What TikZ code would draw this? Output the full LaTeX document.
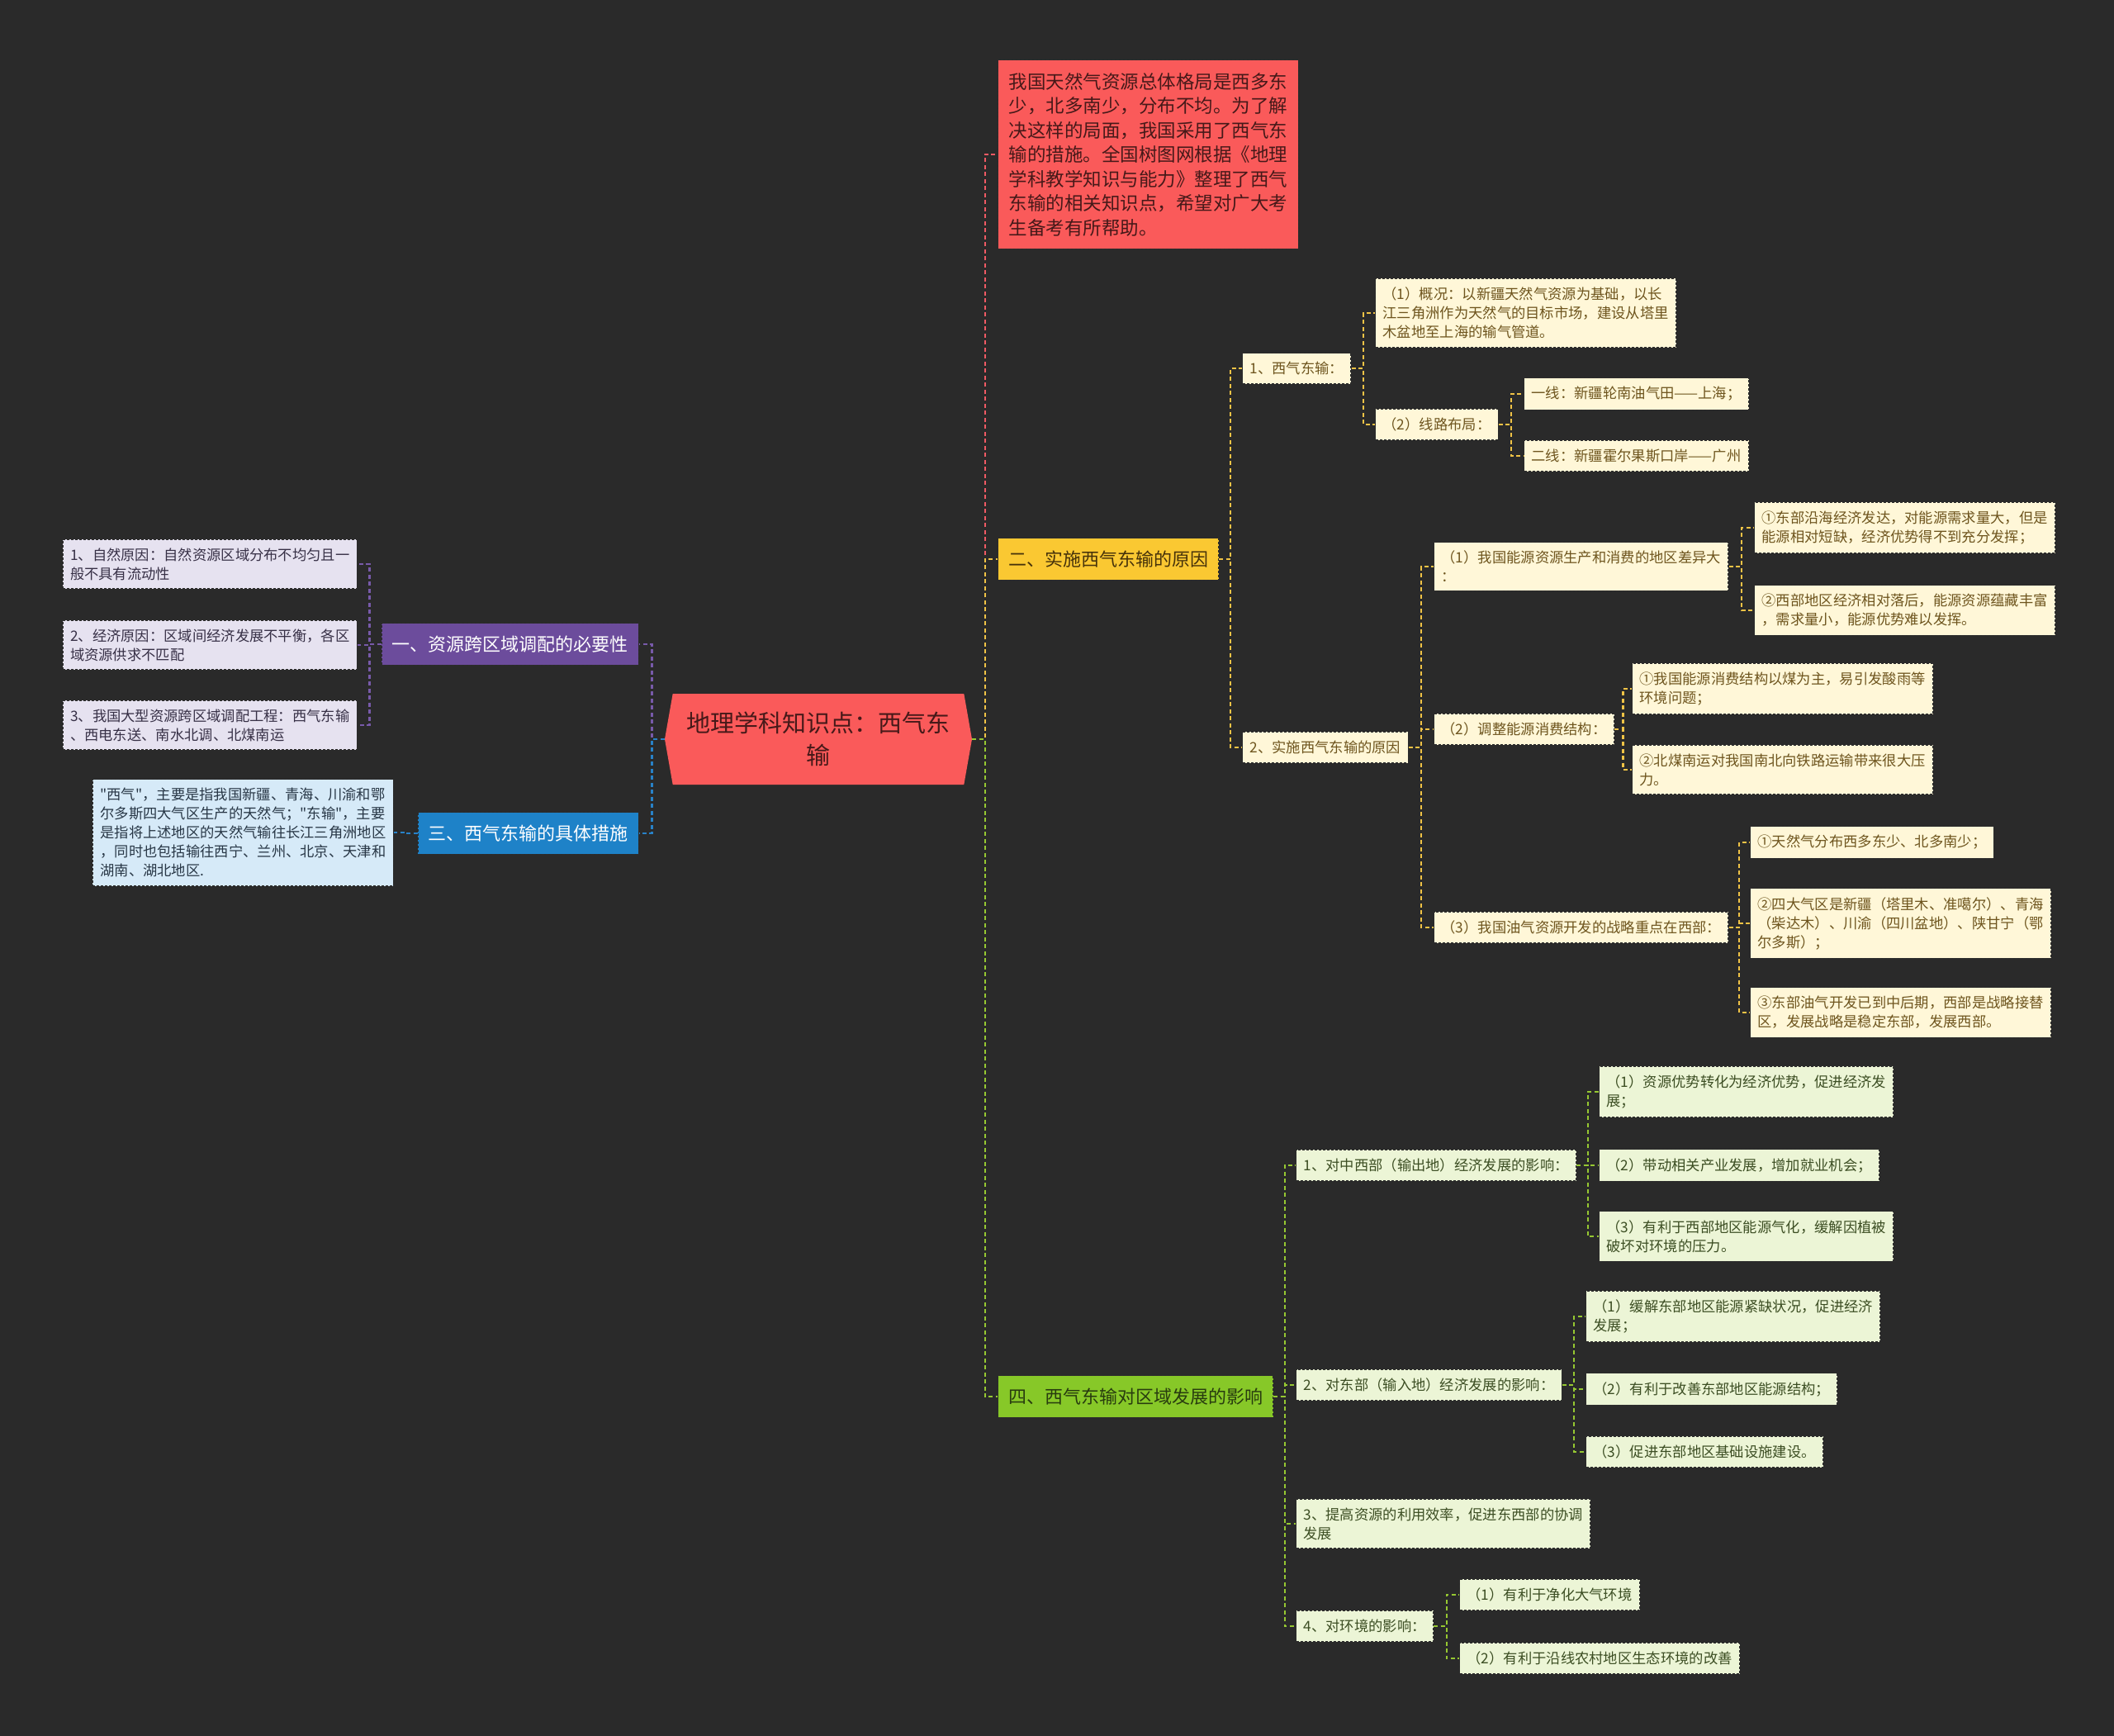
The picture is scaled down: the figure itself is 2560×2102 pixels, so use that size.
\documentclass[tikz,border=0pt]{standalone}
\usepackage{fontspec}
\newfontfamily\cjk{Noto Sans CJK SC}
\usetikzlibrary{calc,shapes.symbols}

\definecolor{bg}{RGB}{42,42,42}
\definecolor{edge}{RGB}{44,44,44}
\definecolor{hot}{RGB}{250,90,90}
\definecolor{hottext}{RGB}{70,25,25}
\definecolor{gold}{RGB}{250,200,50}
\definecolor{goldtext}{RGB}{70,50,10}
\definecolor{lime}{RGB}{135,200,40}
\definecolor{limetext}{RGB}{40,60,15}
\definecolor{purp}{RGB}{108,76,156}
\definecolor{sky}{RGB}{30,130,200}
\definecolor{cream}{RGB}{255,247,216}
\definecolor{creamtext}{RGB}{110,85,30}
\definecolor{mint}{RGB}{236,245,214}
\definecolor{minttext}{RGB}{60,78,35}
\definecolor{lilac}{RGB}{230,226,240}
\definecolor{lilactext}{RGB}{55,48,70}
\definecolor{ice}{RGB}{214,234,248}
\definecolor{icetext}{RGB}{40,55,70}
\definecolor{redline}{RGB}{240,90,100}
\definecolor{goldline}{RGB}{240,195,70}
\definecolor{limeline}{RGB}{150,200,50}
\definecolor{purpline}{RGB}{120,90,170}
\definecolor{skyline}{RGB}{40,130,200}

\tikzset{
	leaf/.style={rectangle, draw=edge, line width=1.2pt, dash pattern=on 3pt off 2pt, inner xsep=9pt, inner ysep=10.5pt, align=left, font=\cjk\fontsize{17.3}{23}\selectfont},
	yleaf/.style={leaf, fill=cream, text=creamtext},
	gleaf/.style={leaf, fill=mint, text=minttext},
	pleaf/.style={leaf, fill=lilac, text=lilactext},
	bleaf/.style={leaf, fill=ice, text=icetext},
	topic/.style={rectangle, draw=edge, line width=1.2pt, dash pattern=on 3pt off 2pt, inner xsep=12.5pt, inner ysep=15pt, font=\cjk\fontsize{22}{29}\selectfont},
	link/.style={line width=2.2pt, dash pattern=on 5pt off 3.5pt}
}

\begin{document}
\begin{tikzpicture}[x=1pt, y=-1pt]
	\useasboundingbox (0,0) rectangle (2560,2102);
	\fill[bg] (0,0) rectangle (2560,2102);

	% centre and main topics
	\node[signal, signal to=west and east, signal pointer angle=160, fill=hot, text=hottext, minimum width=372pt, minimum height=110pt, align=center, font=\cjk\fontsize{29}{39}\selectfont] (ctr) at (991,895) {地理学科知识点：西气东\\输};
	\node[topic, fill=hot, text=hottext, anchor=west, align=left, inner xsep=13pt, inner ysep=15.5pt, font=\cjk\fontsize{22.5}{29.5}\selectfont] (intro) at (1208,187) {我国天然气资源总体格局是西多东\\少，北多南少，分布不均。为了解\\决这样的局面，我国采用了西气东\\输的措施。全国树图网根据《地理\\学科教学知识与能力》整理了西气\\东输的相关知识点，希望对广大考\\生备考有所帮助。};
	\node[topic, fill=gold, text=goldtext, anchor=west] (why) at (1208,677) {二、实施西气东输的原因};
	\node[topic, fill=lime, text=limetext, anchor=west] (eff) at (1208,1691) {四、西气东输对区域发展的影响};
	\node[topic, fill=purp, text=white, anchor=east] (need) at (774,780) {一、资源跨区域调配的必要性};
	\node[topic, fill=sky, text=white, anchor=east] (how) at (774,1009) {三、西气东输的具体措施};

	% left leaves
	\node[pleaf, anchor=east] (needA) at (433,683) {1、自然原因：自然资源区域分布不均匀且一\\般不具有流动性};
	\node[pleaf, anchor=east] (needB) at (433,781) {2、经济原因：区域间经济发展不平衡，各区\\域资源供求不匹配};
	\node[pleaf, anchor=east] (needC) at (433,878) {3、我国大型资源跨区域调配工程：西气东输\\、西电东送、南水北调、北煤南运};
	\node[bleaf, anchor=east] (howA) at (477,1008) {"西气"，主要是指我国新疆、青海、川渝和鄂\\尔多斯四大气区生产的天然气；"东输"，主要\\是指将上述地区的天然气输往长江三角洲地区\\，同时也包括输往西宁、兰州、北京、天津和\\湖南、湖北地区.};

	% reasons
	\node[yleaf, anchor=west] (why1) at (1504,446) {1、西气东输：};
	\node[yleaf, anchor=west] (why1a) at (1665,379) {（1）概况：以新疆天然气资源为基础，以长\\江三角洲作为天然气的目标市场，建设从塔里\\木盆地至上海的输气管道。};
	\node[yleaf, anchor=west] (why1b) at (1665,514) {（2）线路布局：};
	\node[yleaf, anchor=west] (line1) at (1845,477) {一线：新疆轮南油气田——上海；};
	\node[yleaf, anchor=west] (line2) at (1845,552) {二线：新疆霍尔果斯口岸——广州};
	\node[yleaf, anchor=west] (why2) at (1504,905) {2、实施西气东输的原因};
	\node[yleaf, anchor=west] (diff) at (1736,686) {（1）我国能源资源生产和消费的地区差异大\\：};
	\node[yleaf, anchor=west] (diffE) at (2124,639) {①东部沿海经济发达，对能源需求量大，但是\\能源相对短缺，经济优势得不到充分发挥；};
	\node[yleaf, anchor=west] (diffW) at (2124,739) {②西部地区经济相对落后，能源资源蕴藏丰富\\，需求量小，能源优势难以发挥。};
	\node[yleaf, anchor=west] (coal) at (1736,883) {（2）调整能源消费结构：};
	\node[yleaf, anchor=west] (coalA) at (1976,834) {①我国能源消费结构以煤为主，易引发酸雨等\\环境问题；};
	\node[yleaf, anchor=west] (coalB) at (1976,932) {②北煤南运对我国南北向铁路运输带来很大压\\力。};
	\node[yleaf, anchor=west] (oil) at (1736,1123) {（3）我国油气资源开发的战略重点在西部：};
	\node[yleaf, anchor=west] (oilA) at (2119,1020) {①天然气分布西多东少、北多南少；};
	\node[yleaf, anchor=west] (oilB) at (2119,1118) {②四大气区是新疆（塔里木、准噶尔）、青海\\（柴达木）、川渝（四川盆地）、陕甘宁（鄂\\尔多斯）；};
	\node[yleaf, anchor=west] (oilC) at (2119,1226) {③东部油气开发已到中后期，西部是战略接替\\区，发展战略是稳定东部，发展西部。};

	% effects
	\node[gleaf, anchor=west] (effW) at (1569,1411) {1、对中西部（输出地）经济发展的影响：};
	\node[gleaf, anchor=west] (effWa) at (1936,1322) {（1）资源优势转化为经济优势，促进经济发\\展；};
	\node[gleaf, anchor=west] (effWb) at (1936,1411) {（2）带动相关产业发展，增加就业机会；};
	\node[gleaf, anchor=west] (effWc) at (1936,1497) {（3）有利于西部地区能源气化，缓解因植被\\破坏对环境的压力。};
	\node[gleaf, anchor=west] (effE) at (1569,1677) {2、对东部（输入地）经济发展的影响：};
	\node[gleaf, anchor=west] (effEa) at (1920,1594) {（1）缓解东部地区能源紧缺状况，促进经济\\发展；};
	\node[gleaf, anchor=west] (effEb) at (1920,1682) {（2）有利于改善东部地区能源结构；};
	\node[gleaf, anchor=west] (effEc) at (1920,1758) {（3）促进东部地区基础设施建设。};
	\node[gleaf, anchor=west] (effUse) at (1569,1845) {3、提高资源的利用效率，促进东西部的协调\\发展};
	\node[gleaf, anchor=west] (effEnv) at (1569,1969) {4、对环境的影响：};
	\node[gleaf, anchor=west] (envA) at (1767,1931) {（1）有利于净化大气环境};
	\node[gleaf, anchor=west] (envB) at (1767,2008) {（2）有利于沿线农村地区生态环境的改善};

	% connectors
	\draw[link, redline] (ctr.east) -- ($(ctr.east)!.5!(ctr.east -| intro.west)$) |- (intro.west);
	\foreach \p/\c in {ctr/why, why/why1, why/why2, why1/why1a, why1/why1b, why1b/line1, why1b/line2, why2/diff, why2/coal, why2/oil, diff/diffE, diff/diffW, coal/coalA, coal/coalB, oil/oilA, oil/oilB, oil/oilC}
		\draw[link, goldline] (\p.east) -- ($(\p.east)!.5!(\p.east -| \c.west)$) |- (\c.west);
	\foreach \p/\c in {ctr/eff, eff/effW, eff/effE, eff/effUse, eff/effEnv, effW/effWa, effW/effWb, effW/effWc, effE/effEa, effE/effEb, effE/effEc, effEnv/envA, effEnv/envB}
		\draw[link, limeline] (\p.east) -- ($(\p.east)!.5!(\p.east -| \c.west)$) |- (\c.west);
	\foreach \p/\c in {ctr/need, need/needA, need/needB, need/needC}
		\draw[link, purpline] (\p.west) -- ($(\p.west)!.5!(\p.west -| \c.east)$) |- (\c.east);
	\draw[link, skyline] (ctr.west) -- ($(ctr.west)!.5!(ctr.west -| how.east)$) |- (how.east);
	\draw[link, skyline] (how.west) -- ($(how.west)!.5!(how.west -| howA.east)$) |- (howA.east);
\end{tikzpicture}
\end{document}
